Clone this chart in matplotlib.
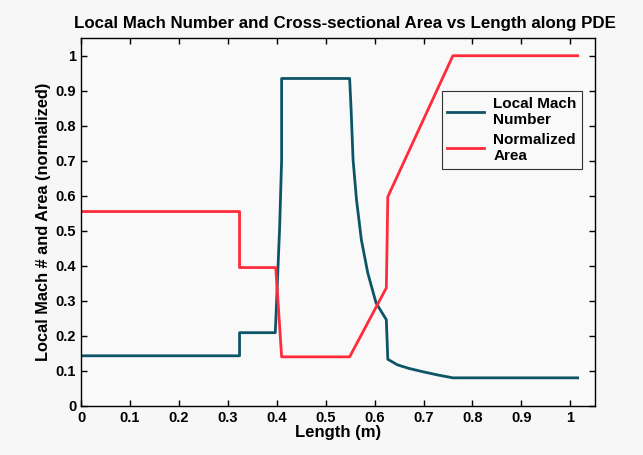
import numpy as np
import matplotlib
matplotlib.use("Agg")
import matplotlib.pyplot as plt

plt.rcParams['font.family'] = ['Liberation Sans', 'DejaVu Sans']
plt.rcParams['font.weight'] = 'bold'

# local Mach number along the engine
mach_x = [0.0, 0.324, 0.324, 0.397, 0.399, 0.406, 0.41, 0.41, 0.549, 0.552, 0.556,
          0.563, 0.573, 0.586, 0.603, 0.624, 0.627, 0.647, 0.67, 0.70, 0.73, 0.76, 1.015]
mach_y = [0.143, 0.143, 0.209, 0.209, 0.274, 0.512, 0.703, 0.935, 0.935, 0.846, 0.703,
          0.589, 0.474, 0.380, 0.294, 0.246, 0.133, 0.117, 0.107, 0.097, 0.088, 0.08, 0.08]

# normalized cross-sectional area
area_x = [0.0, 0.324, 0.324, 0.398, 0.41, 0.549, 0.624, 0.627, 0.76, 1.015]
area_y = [0.555, 0.555, 0.395, 0.395, 0.14, 0.14, 0.337, 0.597, 1.0, 1.0]

xticks = np.arange(0, 1.01, 0.1)
yticks = np.arange(0, 1.01, 0.1)

fig = plt.figure(figsize=(6.43, 4.55), dpi=100, facecolor='#f7f7f7')
ax = fig.add_axes([0.126, 0.108, 0.799, 0.808])
ax.set_facecolor('#f9f9f9')

ax.plot(mach_x, mach_y, color='#0d5566', lw=2, label='Local Mach\nNumber')
ax.plot(area_x, area_y, color='#ff2a3a', lw=2, label='Normalized\nArea')

ax.set_xlim(0, 1.05)
ax.set_ylim(0, 1.05)
ax.set_xticks(xticks)
ax.set_yticks(yticks)
ax.set_xticklabels(['0'] + ['%.1f' % v for v in xticks[1:-1]] + ['1'])
ax.set_yticklabels(['0'] + ['%.1f' % v for v in yticks[1:-1]] + ['1'])
ax.tick_params(direction='in', top=True, right=True, labelsize=10.5, length=4, width=1)
for s in ax.spines.values():
    s.set_linewidth(1)

ax.set_xlabel('Length (m)', fontsize=12, fontweight='bold', labelpad=0)
ax.set_ylabel('Local Mach # and Area (normalized)', fontsize=11.8, fontweight='bold', labelpad=3)
ax.set_title('Local Mach Number and Cross-sectional Area vs Length along PDE',
             fontsize=12.2, fontweight='bold', pad=7, x=0.514)

leg = ax.legend(loc='upper right', bbox_to_anchor=(0.99, 0.876), fontsize=11,
                frameon=True, fancybox=False, edgecolor='black', handlelength=2.4,
                borderpad=0.35, labelspacing=0.4, handletextpad=0.6)
leg.get_frame().set_linewidth(0.8)
leg.get_frame().set_facecolor('#f9f9f9')

fig.savefig('out.png', dpi=100, facecolor=fig.get_facecolor())
